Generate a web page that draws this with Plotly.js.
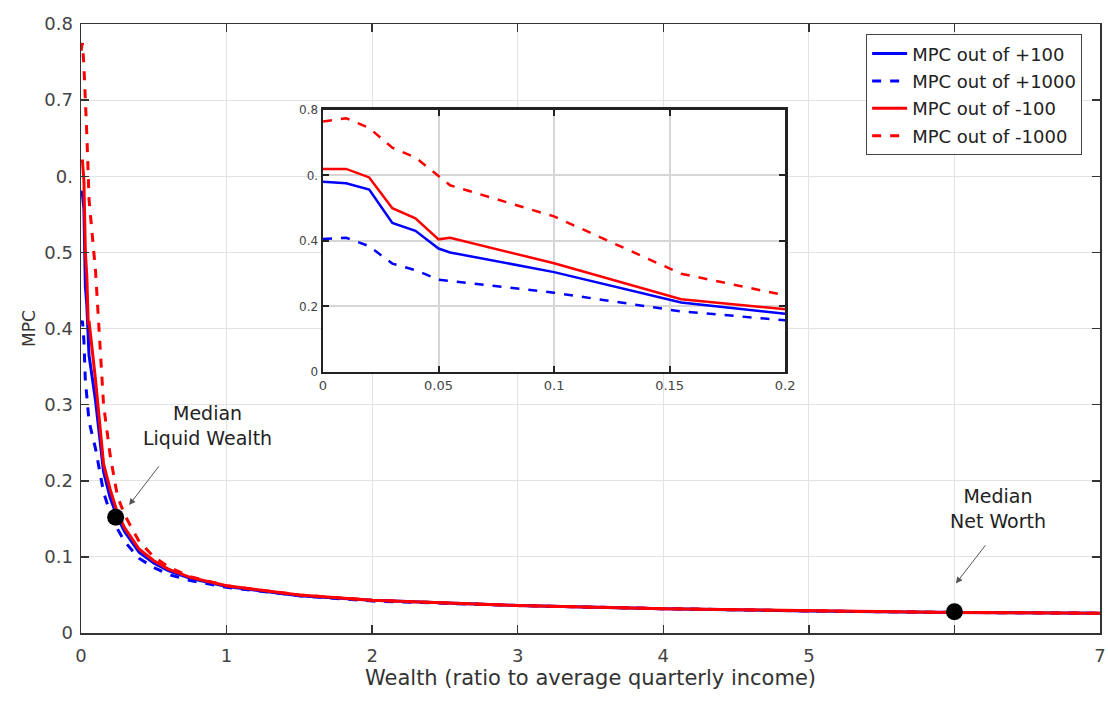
<!DOCTYPE html>
<html>
<head>
<meta charset="utf-8">
<script src="https://cdn.plot.ly/plotly-3.0.1.min.js"></script>
<style>html,body{margin:0;padding:0;background:#fff}#chart{width:1108px;height:701px}</style>
</head>
<body>
<div id="chart"></div>
<script>
// Wealth grid (ratio to average quarterly income)
const wealth = [0, 0.01, 0.02, 0.03, 0.04, 0.05, 0.055, 0.1, 0.155, 0.2, 0.25, 0.3, 0.4, 0.5, 0.6, 0.75, 1, 1.5, 2, 3, 4, 5, 6, 7];
const mpcPlus100   = [0.581, 0.576, 0.557, 0.455, 0.431, 0.377, 0.365, 0.305, 0.212, 0.178, 0.152, 0.133, 0.106, 0.092, 0.082, 0.072, 0.061, 0.049, 0.043, 0.036, 0.032, 0.029, 0.027, 0.026];
const mpcPlus1000  = [0.406, 0.41, 0.384, 0.331, 0.311, 0.282, 0.278, 0.242, 0.185, 0.158, 0.137, 0.12, 0.098, 0.086, 0.077, 0.069, 0.06, 0.049, 0.042, 0.036, 0.032, 0.029, 0.027, 0.026];
const mpcMinus100  = [0.62, 0.62, 0.594, 0.5, 0.469, 0.405, 0.41, 0.332, 0.222, 0.189, 0.158, 0.138, 0.11, 0.095, 0.084, 0.073, 0.062, 0.05, 0.043, 0.036, 0.032, 0.029, 0.027, 0.026];
const mpcMinus1000 = [0.765, 0.775, 0.745, 0.685, 0.655, 0.6, 0.57, 0.475, 0.30, 0.234, 0.18, 0.155, 0.12, 0.1, 0.087, 0.074, 0.062, 0.05, 0.043, 0.036, 0.032, 0.029, 0.027, 0.026];
const seriesNames = ['MPC out of +100', 'MPC out of +1000', 'MPC out of -100', 'MPC out of -1000'];

// Median markers
const medianLiquid = {x: 0.238, y: 0.152, label: 'Median<br>Liquid Wealth'};
const medianNetWorth = {x: 6.0, y: 0.028, label: 'Median<br>Net Worth'};

// Tick labels
const mainXTicks = [0, 1, 2, 3, 4, 5, 6, 7];
const mainXTickText = ['0', '1', '2', '3', '4', '5', '', '7'];
const mainYTicks = [0, 0.1, 0.2, 0.3, 0.4, 0.5, 0.6, 0.7, 0.8];
const mainYTickText = ['0', '0.1', '0.2', '0.3', '0.4', '0.5', '0.', '0.7', '0.8'];
const insetXTicks = [0, 0.05, 0.1, 0.15, 0.2];
const insetXTickText = ['0', '0.05', '0.1', '0.15', '0.2'];
const insetYTicks = [0, 0.2, 0.4, 0.6, 0.8];
const insetYTickText = ['0', '0.2', '0.4', '0.', '0.8'];

const seriesData = [mpcPlus100, mpcPlus1000, mpcMinus100, mpcMinus1000];
const colors = ['#0000ff', '#0000ff', '#ff0000', '#ff0000'];
const dashes = ['solid', 'dash', 'solid', 'dash'];

const traces = [];
seriesData.forEach((ys, i) => {
  traces.push({x: wealth, y: ys, type: 'scatter', mode: 'lines', name: seriesNames[i],
    legendgroup: 'g' + i, line: {color: colors[i], width: 3, dash: dashes[i]}, xaxis: 'x', yaxis: 'y'});
});
// markers
traces.push({x: [medianLiquid.x, medianNetWorth.x], y: [medianLiquid.y, medianNetWorth.y], type: 'scatter', mode: 'markers',
  marker: {color: '#000', size: 17}, showlegend: false, xaxis: 'x', yaxis: 'y', cliponaxis: false});
// inset
seriesData.forEach((ys, i) => {
  traces.push({x: wealth, y: ys, type: 'scatter', mode: 'lines', name: seriesNames[i], showlegend: false,
    line: {color: colors[i], width: 2.5, dash: dashes[i]}, xaxis: 'x2', yaxis: 'y2'});
});

const FONT = 'DejaVu Sans, Liberation Sans, Arial, sans-serif';
const tickFont = {family: FONT, size: 18, color: '#444'};
const layout = {
  width: 1108, height: 701,
  margin: {l: 81, r: 8, t: 24, b: 68},
  paper_bgcolor: '#fff', plot_bgcolor: '#fff',
  showlegend: true,
  font: {family: FONT, color: '#333'},
  xaxis: {domain: [0, 1], range: [0, 7], tickvals: mainXTicks, ticktext: mainXTickText, tickfont: tickFont,
    ticklabelstandoff: 6,
    showgrid: true, gridcolor: '#e3e3e3', gridwidth: 1, zeroline: false, showline: true, linecolor: '#333', linewidth: 1.5,
    mirror: 'ticks', ticks: 'inside', ticklen: 8, tickcolor: '#333', tickwidth: 1.5,
    title: {text: 'Wealth (ratio to average quarterly income)', font: {family: FONT, size: 21, color: '#333'}, standoff: 5}},
  yaxis: {domain: [0, 1], range: [0, 0.8], tickvals: mainYTicks, ticktext: mainYTickText, tickfont: tickFont,
    ticklabelstandoff: 3,
    showgrid: true, gridcolor: '#e3e3e3', gridwidth: 1, zeroline: false, showline: true, linecolor: '#333', linewidth: 1.5,
    mirror: 'ticks', ticks: 'inside', ticklen: 8, tickcolor: '#333', tickwidth: 1.5,
    title: {text: 'MPC', font: {family: FONT, size: 17, color: '#333'}, standoff: 4}},
  xaxis2: {domain: [0.2375, 0.691], anchor: 'y2', range: [0, 0.2], tickvals: insetXTicks, ticktext: insetXTickText,
    tickfont: {family: FONT, size: 13, color: '#444'}, showgrid: true, gridcolor: '#d6d6d6', gridwidth: 2, zeroline: false,
    showline: true, linecolor: '#222', linewidth: 2.5, mirror: 'ticks', ticks: 'inside', ticklen: 6, tickcolor: '#222', tickwidth: 2},
  yaxis2: {domain: [0.4286, 0.8588], anchor: 'x2', range: [0, 0.8], tickvals: insetYTicks, ticktext: insetYTickText,
    tickfont: {family: FONT, size: 12, color: '#444'}, showgrid: true, gridcolor: '#d6d6d6', gridwidth: 2, zeroline: false,
    showline: true, linecolor: '#222', linewidth: 2.5, mirror: 'ticks', ticks: 'inside', ticklen: 6, tickcolor: '#222', tickwidth: 2},
  legend: {x: 0.7705, y: 0.983, xanchor: 'left', yanchor: 'top', bgcolor: '#fff', bordercolor: '#444', borderwidth: 1,
    font: {family: FONT, size: 18, color: '#222'}, tracegroupgap: 1, itemwidth: 35},
  annotations: [
    {x: 0.869, y: 0.272, xref: 'x', yref: 'y', text: medianLiquid.label, showarrow: false, font: {family: FONT, size: 19, color: '#222'}, align: 'center'},
    {x: medianLiquid.x + 0.092, y: 0.168, ax: 0.543, ay: 0.221, xref: 'x', yref: 'y', axref: 'x', ayref: 'y', text: '',
      showarrow: true, arrowhead: 2, arrowsize: 1.3, arrowwidth: 1, arrowcolor: '#555'},
    {x: 6.30, y: 0.164, xref: 'x', yref: 'y', text: medianNetWorth.label, showarrow: false, font: {family: FONT, size: 19, color: '#222'}, align: 'center'},
    {x: medianNetWorth.x + 0.01, y: 0.065, ax: 6.22, ay: 0.117, xref: 'x', yref: 'y', axref: 'x', ayref: 'y', text: '',
      showarrow: true, arrowhead: 2, arrowsize: 1.3, arrowwidth: 1, arrowcolor: '#555'}
  ]
};
Plotly.newPlot('chart', traces, layout, {displayModeBar: false, staticPlot: true});
</script>
</body>
</html>
